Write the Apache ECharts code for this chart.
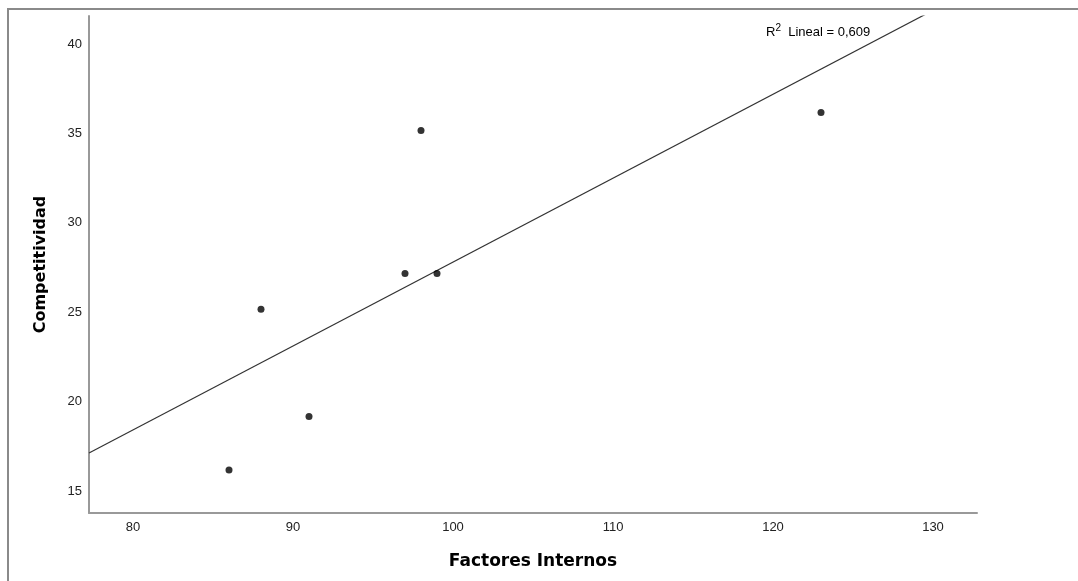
<!DOCTYPE html>
<html>
<head>
<meta charset="utf-8">
<script src="https://cdn.jsdelivr.net/npm/echarts@6/dist/echarts.min.js"></script>
<style>html,body{margin:0;padding:0;background:#fff;}#c{width:1078px;height:581px;}</style>
</head>
<body>
<div id="c"></div>
<script>
const factoresInternos = [86, 88, 91, 97, 98, 99, 123];
const competitividad = [16, 25, 19, 27, 35, 27, 36];
const xTicks = [80, 90, 100, 110, 120, 130];
const yTicks = [15, 20, 25, 30, 35, 40];
const xRange = [77.25, 132.75];
const yRange = [13.6, 41.4];
const r2Text = '0,609';

// least squares fit from the data
const n = factoresInternos.length;
const mx = factoresInternos.reduce((a, b) => a + b, 0) / n;
const my = competitividad.reduce((a, b) => a + b, 0) / n;
let sxy = 0, sxx = 0;
for (let i = 0; i < n; i++) {
  sxy += (factoresInternos[i] - mx) * (competitividad[i] - my);
  sxx += (factoresInternos[i] - mx) ** 2;
}
const slope = sxy / sxx;
const intercept = my - slope * mx;
const fitLine = xRange.map(x => [x, intercept + slope * x]);
const points = factoresInternos.map((x, i) => [x, competitividad[i]]);

const chart = echarts.init(document.getElementById('c'));
const font = 'Liberation Sans, Arial, sans-serif';
const titleFont = 'DejaVu Sans, sans-serif';
chart.setOption({
  animation: false,
  backgroundColor: '#fff',
  grid: { left: 89, top: 16, right: 101, bottom: 68, containLabel: false },
  xAxis: {
    type: 'value', min: xRange[0], max: xRange[1],
    name: 'Factores Internos', nameLocation: 'middle', nameGap: 40,
    nameTextStyle: { fontFamily: titleFont, fontSize: 17, fontWeight: 'bold', color: '#000' },
    axisLine: { lineStyle: { color: '#999', width: 2 } },
    axisTick: { show: false },
    splitLine: { show: false },
    axisLabel: { customValues: xTicks, fontFamily: font, fontSize: 13, color: '#222', margin: 8 }
  },
  yAxis: {
    type: 'value', min: yRange[0], max: yRange[1],
    name: 'Competitividad', nameLocation: 'middle', nameGap: 40,
    nameTextStyle: { fontFamily: titleFont, fontSize: 16, fontWeight: 'bold', color: '#000' },
    axisLine: { show: true, lineStyle: { color: '#999', width: 2 } },
    axisTick: { show: false },
    splitLine: { show: false },
    axisLabel: { customValues: yTicks, fontFamily: font, fontSize: 13, color: '#222', margin: 7, verticalAlign: 'top', lineHeight: 6 }
  },
  graphic: [
    { type: 'rect', shape: { x: 8, y: 9, width: 1100, height: 620 }, style: { fill: 'none', stroke: '#8a8a8a', lineWidth: 2 }, silent: true },
    { type: 'text', x: 766, y: 23, style: {
        text: '{b|R}{s|2}{b|  Lineal = ' + r2Text + '}',
        rich: { b: { fontFamily: font, fontSize: 13, color: '#111', verticalAlign: 'bottom', lineHeight: 16 }, s: { fontFamily: font, fontSize: 10, color: '#111', verticalAlign: 'top', lineHeight: 16, padding: [0, 0, 5, 0] } }
      } }
  ],
  series: [
    { type: 'line', data: fitLine, symbol: 'none', clip: true, lineStyle: { color: '#333', width: 1.2 }, z: 1 },
    { type: 'scatter', data: points, symbol: 'circle', symbolSize: 7, itemStyle: { color: '#000' }, z: 2 }
  ]
});
</script>
</body>
</html>
